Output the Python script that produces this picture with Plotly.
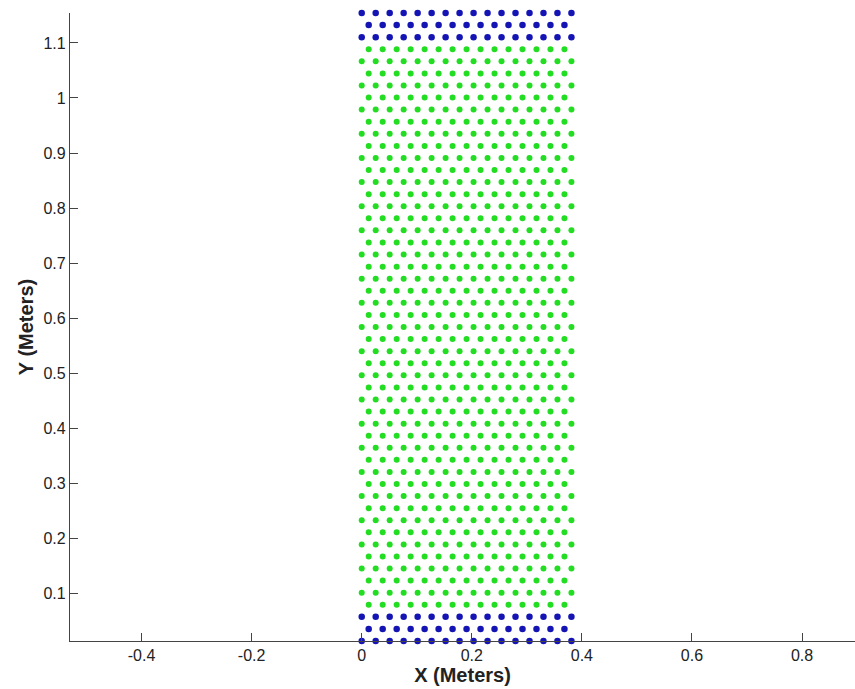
import plotly.graph_objects as go

# Lattice row heights (meters), bottom to top
row_y = [0.0135, 0.0354, 0.0574, 0.0793, 0.1013, 0.1232, 0.1451, 0.1671, 0.1890, 0.2110,
         0.2329, 0.2548, 0.2768, 0.2987, 0.3207, 0.3426, 0.3645, 0.3865, 0.4084, 0.4304,
         0.4523, 0.4742, 0.4962, 0.5181, 0.5401, 0.5620, 0.5839, 0.6059, 0.6278, 0.6498,
         0.6717, 0.6936, 0.7156, 0.7375, 0.7595, 0.7814, 0.8033, 0.8253, 0.8472, 0.8692,
         0.8911, 0.9130, 0.9350, 0.9569, 0.9789, 1.0008, 1.0227, 1.0447, 1.0666, 1.0886,
         1.1105, 1.1324, 1.1544]
# x positions in full rows (even) and offset rows (odd)
x_full = [0.0, 0.0254, 0.0508, 0.0762, 0.1016, 0.1270, 0.1524, 0.1778, 0.2032, 0.2286,
          0.2540, 0.2794, 0.3048, 0.3302, 0.3556, 0.3810]
x_offset = [0.0127, 0.0381, 0.0635, 0.0889, 0.1143, 0.1397, 0.1651, 0.1905, 0.2159, 0.2413,
            0.2667, 0.2921, 0.3175, 0.3429, 0.3683]
# rows drawn in blue (boundary rows); the rest are green
blue_rows = [0, 1, 2, 50, 51, 52]

x_ticks = [-0.4, -0.2, 0, 0.2, 0.4, 0.6, 0.8]
x_tick_text = ["-0.4", "-0.2", "0", "0.2", "0.4", "0.6", "0.8"]
y_ticks = [0.1, 0.2, 0.3, 0.4, 0.5, 0.6, 0.7, 0.8, 0.9, 1.0, 1.1]
y_tick_text = ["0.1", "0.2", "0.3", "0.4", "0.5", "0.6", "0.7", "0.8", "0.9", "1", "1.1"]

bx, by, gx, gy = [], [], [], []
for k, yv in enumerate(row_y):
    xs = x_full if k % 2 == 0 else x_offset
    if k in blue_rows:
        bx += xs
        by += [yv] * len(xs)
    else:
        gx += xs
        gy += [yv] * len(xs)

fig = go.Figure()
fig.add_trace(go.Scatter(x=gx, y=gy, mode="markers", cliponaxis=False,
                         marker=dict(color="#22dd22", size=6, line=dict(width=0))))
fig.add_trace(go.Scatter(x=bx, y=by, mode="markers", cliponaxis=False,
                         marker=dict(color="#1414b4", size=6.5, line=dict(width=0))))

font_family = "Liberation Sans, Arial, sans-serif"
axis_common = dict(showline=True, linecolor="#444444", linewidth=1.2, ticks="inside",
                   ticklen=8, tickcolor="#444444", showgrid=False, zeroline=False,
                   mirror=False, tickfont=dict(family=font_family, size=16, color="#222222"))

fig.update_layout(
    width=855, height=689,
    margin=dict(l=70, r=0, t=13, b=48),
    paper_bgcolor="white", plot_bgcolor="white",
    showlegend=False,
    xaxis=dict(range=[-0.530, 0.8962], tickvals=x_ticks, ticktext=x_tick_text,
               title=dict(text="<b>X (Meters)</b>", standoff=2,
                          font=dict(family=font_family, size=20, color="#222222")),
               **axis_common),
    yaxis=dict(range=[0.0135, 1.1544], tickvals=y_ticks, ticktext=y_tick_text,
               title=dict(text="<b>Y (Meters)</b>", standoff=4,
                          font=dict(family=font_family, size=20, color="#222222")),
               **axis_common),
)

fig.write_html("out.html")
